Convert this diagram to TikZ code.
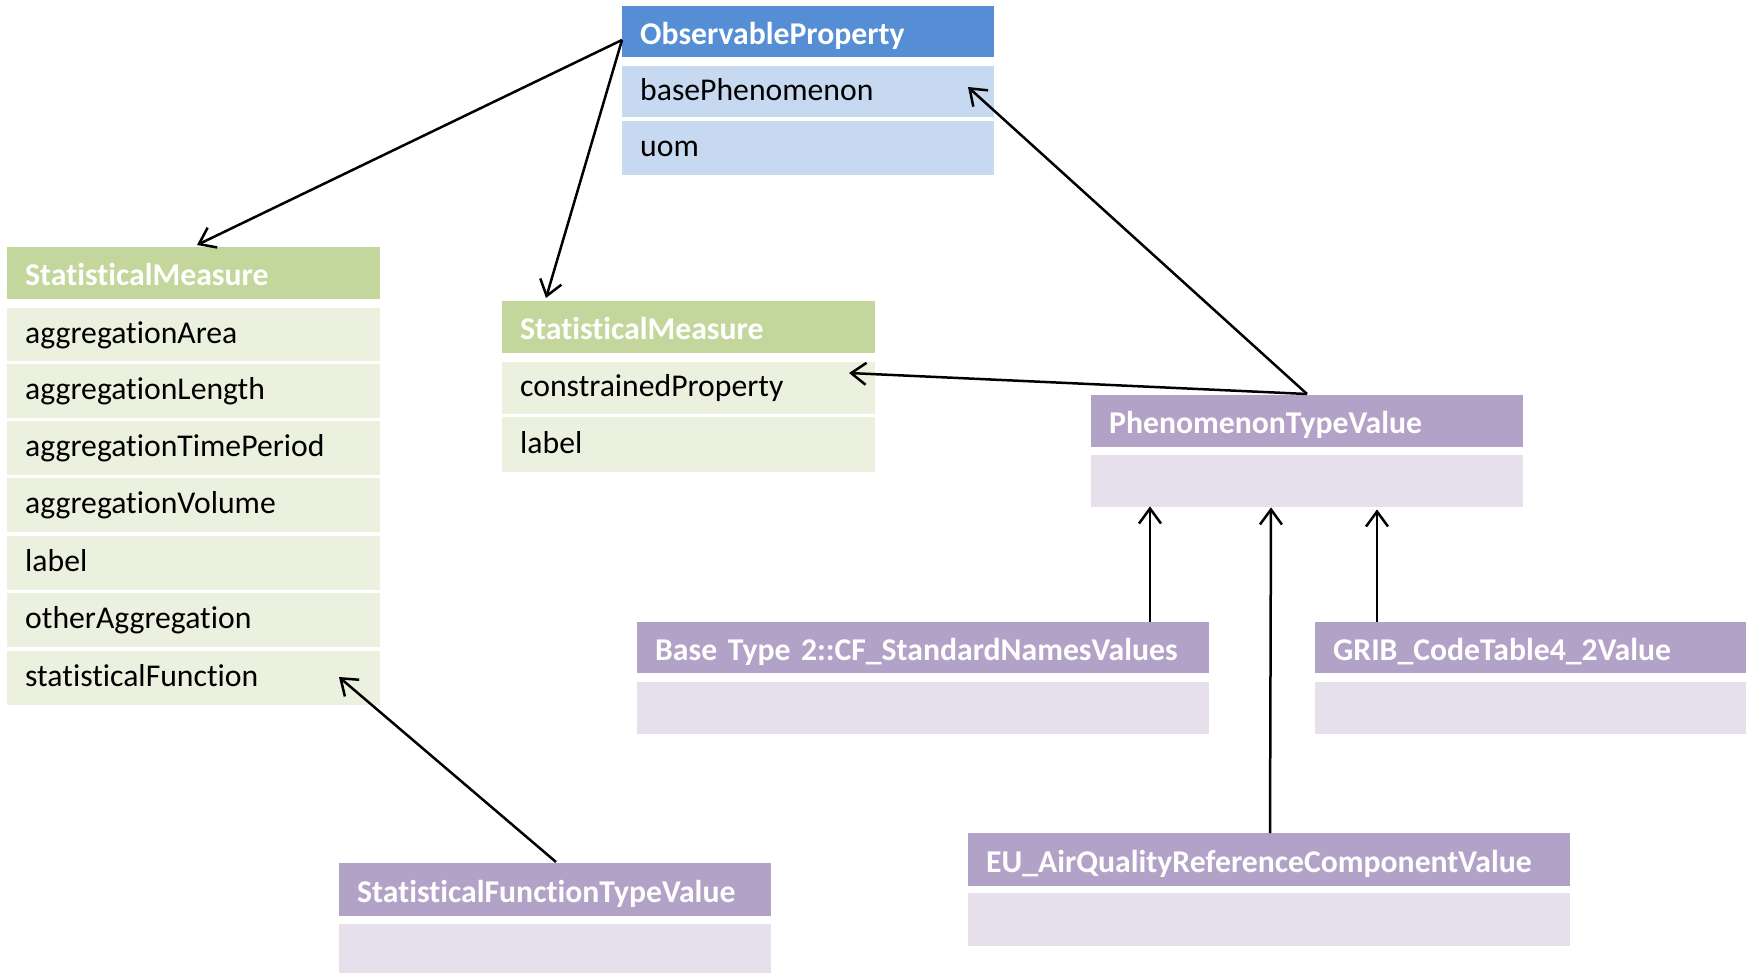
\documentclass[tikz,border=0pt]{standalone}
\usepackage{fontspec}
\setmainfont{Carlito}[Ligatures=NoCommon]
\usetikzlibrary{arrows.meta,calc}
\definecolor{bluehd}{HTML}{558ED5}
\definecolor{bluerw}{HTML}{C6D9F1}
\definecolor{greenhd}{HTML}{C3D69B}
\definecolor{greenrw}{HTML}{EBF1DE}
\definecolor{purphd}{HTML}{B3A2C7}
\definecolor{purprw}{HTML}{E6E0EC}
\newcommand\umlfont{\fontsize{31.7}{36}\selectfont}
\tikzset{
  box/.style={rectangle, anchor=north west, inner xsep=18pt, inner ysep=0pt,
    align=left, font=\umlfont, text height=23pt, text depth=6pt},
  hdr/.style={box, font=\umlfont\bfseries, text=white, text height=27pt, text depth=2pt},
  conn/.style={line width=2.5pt, -{Straight Barb[length=15pt,width=22pt,line width=2.5pt]}}
}
\begin{document}
\begin{tikzpicture}[x=1pt,y=-1pt]
\useasboundingbox (0,0) rectangle (1752,973);
% ObservableProperty
\node[hdr, fill=bluehd, text width=336pt, minimum height=51pt] (oph) at (622,6) {ObservableProperty};
\node[box, fill=bluerw, text width=336pt, minimum height=51pt] (opr1) at (622,66) {basePhenomenon};
\node[box, fill=bluerw, text width=336pt, minimum height=54pt] (opr2) at (622,121) {uom};
% left StatisticalMeasure
\node[hdr, fill=greenhd, text width=337pt, minimum height=52pt] (lsh) at (7,247) {StatisticalMeasure};
\node[box, fill=greenrw, text width=337pt, minimum height=53pt] (lsr1) at (7,308) {aggregationArea};
\node[box, fill=greenrw, text width=337pt, minimum height=54pt] (lsr2) at (7,364) {aggregationLength};
\node[box, fill=greenrw, text width=337pt, minimum height=54pt] (lsr3) at (7,421) {aggregationTimePeriod};
\node[box, fill=greenrw, text width=337pt, minimum height=54pt] (lsr4) at (7,478) {aggregationVolume};
\node[box, fill=greenrw, text width=337pt, minimum height=54pt] (lsr5) at (7,536) {label};
\node[box, fill=greenrw, text width=337pt, minimum height=54pt] (lsr6) at (7,593) {otherAggregation};
\node[box, fill=greenrw, text width=337pt, minimum height=54pt] (lsr7) at (7,651) {statisticalFunction};
% middle StatisticalMeasure
\node[hdr, fill=greenhd, text width=337pt, minimum height=52pt] (msh) at (502,301) {StatisticalMeasure};
\node[box, fill=greenrw, text width=337pt, minimum height=52pt] (msr1) at (502,362) {constrainedProperty};
\node[box, fill=greenrw, text width=337pt, minimum height=55pt] (msr2) at (502,417) {label};
% PhenomenonTypeValue
\node[hdr, fill=purphd, text width=396pt, minimum height=52pt] (phh) at (1091,395) {PhenomenonTypeValue};
\node[box, fill=purprw, text width=396pt, minimum height=52pt] (phb) at (1091,455) {};
% Base Type 2
\node[hdr, fill=purphd, text width=536pt, minimum height=51pt] (bth) at (637,622) {Base Type 2::CF\_StandardNamesValues};
\node[box, fill=purprw, text width=536pt, minimum height=52pt] (btb) at (637,682) {};
% GRIB
\node[hdr, fill=purphd, text width=395pt, minimum height=51pt] (grh) at (1315,622) {GRIB\_CodeTable4\_2Value};
\node[box, fill=purprw, text width=395pt, minimum height=52pt] (grb) at (1315,682) {};
% StatisticalFunctionTypeValue
\node[hdr, fill=purphd, text width=396pt, minimum height=53pt] (sth) at (339,863) {StatisticalFunctionTypeValue};
\node[box, fill=purprw, text width=396pt, minimum height=49pt] (stb) at (339,924) {};
% EU
\node[hdr, fill=purphd, text width=566pt, minimum height=53pt] (euh) at (968,833) {EU\_AirQualityReferenceComponentValue};
\node[box, fill=purprw, text width=566pt, minimum height=53pt] (eub) at (968,893) {};
% connectors
\draw[conn] ($(oph.north west)+(0,34)$) -- ($(lsh.north west)+(190,-2)$);
\draw[conn] ($(oph.north west)+(0,34)$) -- ($(msh.north west)+(44,-3)$);
\draw[conn] ($(phh.north west)+(216,-1)$) -- ($(opr1.north west)+(346,21)$);
\draw[conn] ($(phh.north west)+(216,-1)$) -- ($(msr1.north west)+(347,11)$);
\draw[conn] ($(bth.north west)+(513,0)$) -- ($(phb.south west)+(59,-1)$);
\draw[conn] ($(euh.north west)+(302,0)$) -- ($(phb.south west)+(180,0)$);
\draw[conn] ($(grh.north west)+(62,0)$) -- ($(phb.south west)+(286,2)$);
\draw[conn] ($(sth.north west)+(217,-1)$) -- ($(lsr7.north west)+(332,26)$);
\end{tikzpicture}
\end{document}
